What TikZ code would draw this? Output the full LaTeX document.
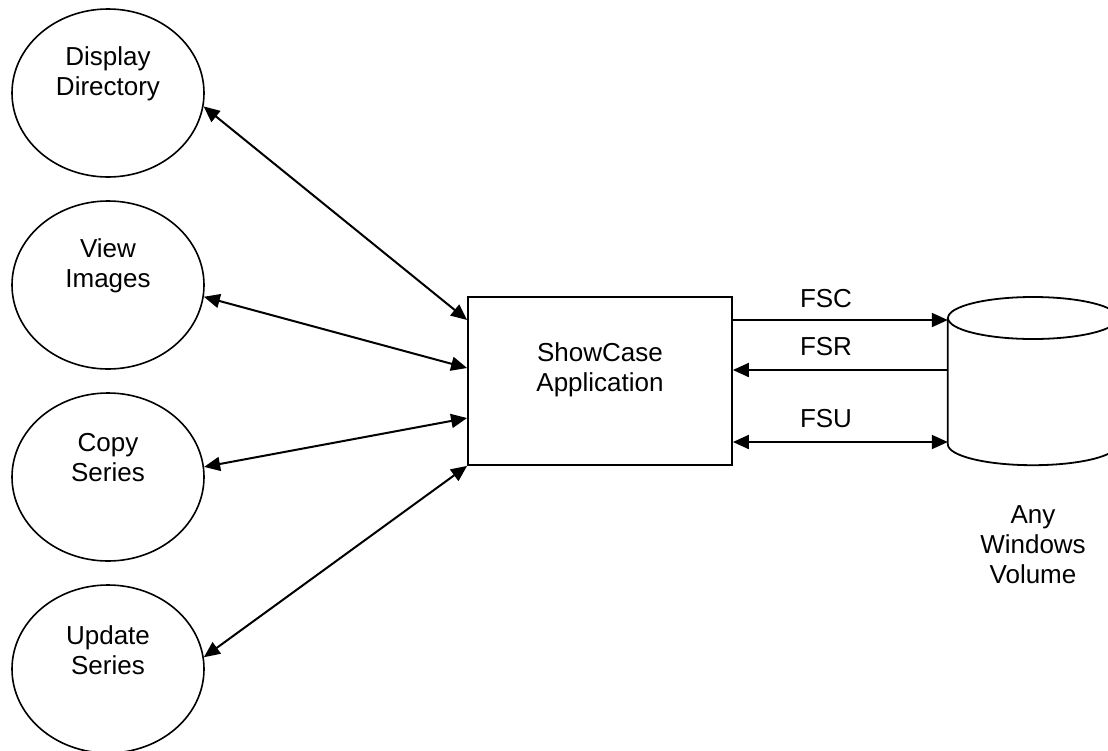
\documentclass[tikz,border=0pt]{standalone}
\usepackage{fontspec}
\setmainfont{Liberation Sans}
\usetikzlibrary{shapes.geometric,arrows.meta}
\tikzset{
  proc/.style={draw=black, line width=1.6pt, ellipse, minimum width=192pt, minimum height=168pt, inner sep=0pt},
  lbl/.style={align=center, inner sep=0pt, font=\fontsize{26}{30}\selectfont},
  appbox/.style={draw=black, line width=1.8pt, minimum width=264pt, minimum height=168pt, inner sep=0pt},
  conn/.style={line width=2pt},
  tip/.tip={Triangle[length=16pt,width=14pt]},
  both/.style={conn, tip-tip},
  fwd/.style={conn, -tip},
  cyl/.style={line width=1.8pt}
}
\begin{document}
\begin{tikzpicture}[x=1pt,y=-1pt]
\useasboundingbox (0,0) rectangle (1108,750);
\clip (0,0) rectangle (1108,750);
\fill[white] (0,0) rectangle (1108,750);

% processes
\node[proc] (dd) at (108,93) {};
\node[proc] (vi) at (108,285) {};
\node[proc] (cs) at (108,477) {};
\node[proc] (us) at (108,669) {};
\node[lbl] (ddt) at (108,74) {Display\\Directory};
\node[lbl] (vit) at (108,266) {View\\Images};
\node[lbl] (cst) at (108,458) {Copy\\Series};
\node[lbl] (ust) at (108,650) {Update\\Series};

% application
\node[appbox] (app) at (600,381) {};
\node[lbl] (appt) at (600,370) {ShowCase\\Application};

% volume (cylinder)
\node[minimum width=170pt, minimum height=126pt, inner sep=0pt] (vol) at (1033,381) {};
\draw[cyl] (1033,318) ellipse [x radius=85pt, y radius=21pt];
\draw[cyl] (vol.north west) -- (vol.south west)
  arc [start angle=180, end angle=360, x radius=85pt, y radius=21pt]
  -- (vol.north east);
\node[lbl] (volt) at (1033,545) {Any\\Windows\\Volume};

% connectors left
\draw[both] (dd.-8) -- ([yshift=61pt]app.west);
\draw[both] (vi.-7) -- ([yshift=13pt]app.west);
\draw[both] (cs.6) -- ([yshift=-37pt]app.west);
\draw[both] (us.7) -- (app.south west);

% connectors right
\draw[fwd] ([yshift=61pt]app.east) -- ([yshift=61pt]vol.west);
\draw[fwd] ([yshift=11pt]vol.west) -- ([yshift=11pt]app.east);
\draw[both] ([yshift=-61pt]app.east) -- ([yshift=-61pt]vol.west);

\node[lbl] (fsc) at (826,299) {FSC};
\node[lbl] (fsr) at (826,347) {FSR};
\node[lbl] (fsu) at (826,419) {FSU};
\end{tikzpicture}
\end{document}
